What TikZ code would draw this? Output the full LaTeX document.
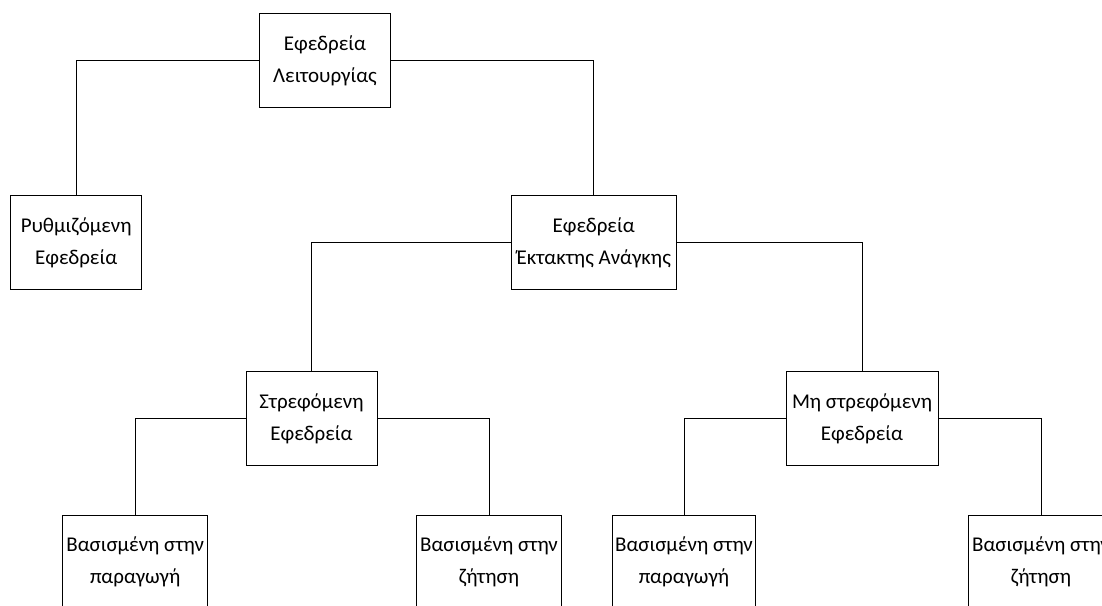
\documentclass[tikz,border=0pt]{standalone}
\usepackage{fontspec}
\setmainfont{Carlito}
\begin{document}
\begin{tikzpicture}[x=1pt,y=-1pt,
  box/.style={draw=black, line width=0.9pt, rectangle, inner sep=0pt,
    minimum height=94pt, align=center, text=black,
    font=\fontsize{21}{32}\selectfont},
  link/.style={draw=black, line width=0.9pt}]
\useasboundingbox (0,0) rectangle (1102,605);
\clip (0,0) rectangle (1102,605);
\fill[white] (0,0) rectangle (1102,605);

% level 0
\node[box, minimum width=131pt] (top) at (325,60.4) {Εφεδρεία\\Λειτουργίας};
% level 1
\node[box, minimum width=131pt] (reg) at (76.2,242.3) {Ρυθμιζόμενη\\Εφεδρεία};
\node[box, minimum width=165pt] (emg) at (593.7,242.3) {Εφεδρεία\\Έκτακτης Ανάγκης};
% level 2
\node[box, minimum width=131pt] (spin) at (311.5,418.7) {Στρεφόμενη\\Εφεδρεία};
\node[box, minimum width=152pt] (nspin) at (862,418.7) {Μη στρεφόμενη\\Εφεδρεία};
% level 3
\node[box, minimum width=145pt] (sp) at (135.2,562) {Βασισμένη στην\\παραγωγή};
\node[box, minimum width=145pt] (sd) at (489,562) {Βασισμένη στην\\ζήτηση};
\node[box, minimum width=143pt] (np) at (684,562) {Βασισμένη στην\\παραγωγή};
\node[box, minimum width=145pt] (nd) at (1041,562) {Βασισμένη στην\\ζήτηση};

% connectors
\draw[link] (top.west) -| (reg.north);
\draw[link] (top.east) -| (emg.north);
\draw[link] (emg.west) -| (spin.north);
\draw[link] (emg.east) -| (nspin.north);
\draw[link] (spin.west) -| (sp.north);
\draw[link] (spin.east) -| (sd.north);
\draw[link] (nspin.west) -| (np.north);
\draw[link] (nspin.east) -| (nd.north);
\end{tikzpicture}
\end{document}
